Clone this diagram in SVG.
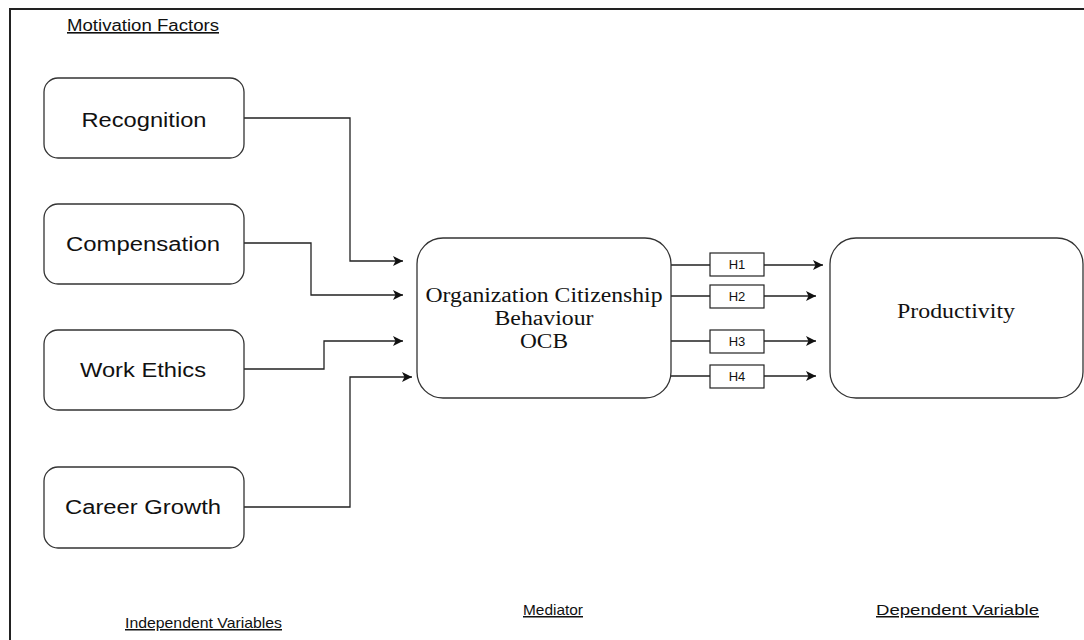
<svg xmlns="http://www.w3.org/2000/svg" width="1084" height="640" viewBox="0 0 1084 640">
<defs>
<marker id="arr" viewBox="0 0 10 10" refX="10" refY="5" markerWidth="10" markerHeight="10" markerUnits="userSpaceOnUse" orient="auto">
<path d="M0,0 L10,5 L0,10 L2.5,5 Z" fill="#111"/>
</marker>
<style>
.box{fill:#fff;stroke:#333;stroke-width:1.3}
.hbox{fill:#fff;stroke:#222;stroke-width:1.2}
.ln{fill:none;stroke:#222;stroke-width:1.3}
.sans{font-family:"Liberation Sans",Arial,sans-serif;fill:#111}
.serif{font-family:"Liberation Serif","Times New Roman",serif;fill:#111}
.lbl{font-size:20px}
.hdr{font-size:15px;text-decoration:underline}
.h{font-size:13px}
</style>
</defs>
<rect width="1084" height="640" fill="#fff"/>
<path d="M10,645 L10,9 L1090,9" fill="none" stroke="#222" stroke-width="2"/>

<text class="sans hdr" x="67" y="31" textLength="152" lengthAdjust="spacingAndGlyphs" style="font-size:16px">Motivation Factors</text>
<text class="sans hdr" x="125" y="628" textLength="157" lengthAdjust="spacingAndGlyphs">Independent Variables</text>
<text class="sans hdr" x="523" y="615" textLength="60" lengthAdjust="spacingAndGlyphs">Mediator</text>
<text class="sans hdr" x="876" y="615" textLength="163" lengthAdjust="spacingAndGlyphs">Dependent Variable</text>

<g id="connectors">
<path class="ln" d="M244,118 H350 V261 H403" marker-end="url(#arr)"/>
<path class="ln" d="M244,243 H311 V295 H403" marker-end="url(#arr)"/>
<path class="ln" d="M244,369 H324 V341 H403" marker-end="url(#arr)"/>
<path class="ln" d="M244,507 H350 V377 H412" marker-end="url(#arr)"/>
<path class="ln" d="M671,265 H710 M764,265 H823" marker-end="url(#arr)"/>
<path class="ln" d="M671,296 H710 M764,296 H816" marker-end="url(#arr)"/>
<path class="ln" d="M671,341 H710 M764,341 H816" marker-end="url(#arr)"/>
<path class="ln" d="M671,376 H710 M764,376 H816" marker-end="url(#arr)"/>
</g>

<g id="recognition">
<rect class="box" x="44" y="78" width="200" height="80" rx="14"/>
<text class="sans lbl" x="144" y="127" text-anchor="middle" textLength="125" lengthAdjust="spacingAndGlyphs">Recognition</text>
</g>
<g id="compensation">
<rect class="box" x="44" y="204" width="200" height="80" rx="14"/>
<text class="sans lbl" x="143" y="251" text-anchor="middle" textLength="154" lengthAdjust="spacingAndGlyphs">Compensation</text>
</g>
<g id="work-ethics">
<rect class="box" x="44" y="330" width="200" height="80" rx="14"/>
<text class="sans lbl" x="143" y="377" text-anchor="middle" textLength="126" lengthAdjust="spacingAndGlyphs">Work Ethics</text>
</g>
<g id="career-growth">
<rect class="box" x="44" y="467" width="200" height="81" rx="14"/>
<text class="sans lbl" x="143" y="514" text-anchor="middle" textLength="156" lengthAdjust="spacingAndGlyphs">Career Growth</text>
</g>

<g id="ocb">
<rect class="box" x="417" y="238" width="254" height="160" rx="26"/>
<text class="serif lbl" x="544" y="302" text-anchor="middle" textLength="237" lengthAdjust="spacingAndGlyphs">Organization Citizenship</text>
<text class="serif lbl" x="544" y="325" text-anchor="middle" textLength="99" lengthAdjust="spacingAndGlyphs">Behaviour</text>
<text class="serif lbl" x="544" y="348" text-anchor="middle" textLength="48" lengthAdjust="spacingAndGlyphs">OCB</text>
</g>

<g id="productivity">
<rect class="box" x="830" y="238" width="253" height="160" rx="26"/>
<text class="serif lbl" x="956" y="318" text-anchor="middle" textLength="118" lengthAdjust="spacingAndGlyphs">Productivity</text>
</g>

<g id="h1">
<rect class="hbox" x="710" y="253" width="54" height="23"/>
<text class="sans h" x="737" y="269" text-anchor="middle">H1</text>
</g>
<g id="h2">
<rect class="hbox" x="710" y="285" width="54" height="23"/>
<text class="sans h" x="737" y="301" text-anchor="middle">H2</text>
</g>
<g id="h3">
<rect class="hbox" x="710" y="330" width="54" height="23"/>
<text class="sans h" x="737" y="346" text-anchor="middle">H3</text>
</g>
<g id="h4">
<rect class="hbox" x="710" y="365" width="54" height="23"/>
<text class="sans h" x="737" y="381" text-anchor="middle">H4</text>
</g>
</svg>
